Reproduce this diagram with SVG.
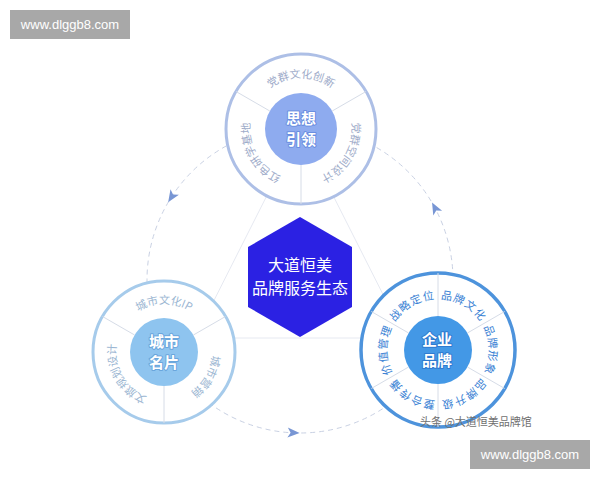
<svg xmlns="http://www.w3.org/2000/svg" width="600" height="480" viewBox="0 0 600 480">
<style>
.seg{font-family:"Noto Sans CJK SC","Noto Sans",sans-serif;font-size:11px;}
.segT{fill:#9eabc9;}
.segL{fill:#9bb6d2;}
.segR{fill:#3a82d4;font-size:11px;letter-spacing:1px;}
.div{stroke:#d6dce7;stroke-width:1;}
.core{font-family:"Noto Sans CJK SC","Noto Sans",sans-serif;font-size:15px;font-weight:bold;fill:#ffffff;stroke-width:2px;paint-order:stroke;stroke-linejoin:round;text-anchor:middle;}
.hex{font-family:"Noto Sans CJK SC","Noto Sans",sans-serif;font-size:16px;fill:#ffffff;text-anchor:middle;}
.wm{font-family:"Liberation Sans",sans-serif;font-size:13px;fill:#ffffff;}
</style>
<defs>
<path id="arrowhead" d="M6.5,0 L-5.5,-5 L-2.5,0 L-5.5,5 Z"/>
<path id="pT1" d="M256.8,103.5 A51,51 0 0 1 345.2,103.5"/>
<path id="pT2" d="M345.2,103.5 A51,51 0 0 1 301,180"/>
<path id="pT3" d="M301,180 A51,51 0 0 1 256.8,103.5"/>
<path id="pL1" d="M122.4,328 A48,48 0 0 1 205.6,328"/>
<path id="pL2" d="M205.6,328 A48,48 0 0 1 164,400"/>
<path id="pL3" d="M164,400 A48,48 0 0 1 122.4,328"/>
<path id="pR1" d="M482.2,324.5 A51,51 0 0 1 482.2,375.5"/>
<path id="pR2" d="M482.2,375.5 A51,51 0 0 1 438,401"/>
<path id="pR3" d="M438,401 A51,51 0 0 1 393.8,375.5"/>
<path id="pR4" d="M393.8,375.5 A51,51 0 0 1 393.8,324.5"/>
<path id="pR5" d="M393.8,324.5 A51,51 0 0 1 438,299"/>
<path id="pR6" d="M438,299 A51,51 0 0 1 482.2,324.5"/>
</defs>
<rect width="600" height="480" fill="#ffffff"/>

<g id="connectors">
<polygon points="300,130 195,338 405,338" fill="none" stroke="#e6e9f1" stroke-width="1"/>
<circle cx="300" cy="280" r="153" fill="none" stroke="#c9d1e3" stroke-width="1" stroke-dasharray="5 4"/>
<use href="#arrowhead" fill="#7896d4" transform="translate(171.7,196.7) rotate(123)"/>
<use href="#arrowhead" fill="#7896d4" transform="translate(435.1,208.2) rotate(242)"/>
<use href="#arrowhead" fill="#7896d4" transform="translate(293.1,432.8) rotate(2.6)"/>
</g>

<g id="node-center">
<polygon points="300,217 352,247 352,307 300,337 248,307 248,247" fill="#2b21e3"/>
<text class="hex" x="300" y="271">大道恒美</text>
<text class="hex" x="300" y="294">品牌服务生态</text>
</g>

<g id="node-thought">
<circle cx="301" cy="129" r="75" fill="#ffffff" stroke="#adbfe6" stroke-width="3"/>
<line class="div" x1="301" y1="165" x2="301" y2="204"/>
<line class="div" x1="269.8" y1="111" x2="236" y2="91.5"/>
<line class="div" x1="332.2" y1="111" x2="366" y2="91.5"/>
<circle cx="301" cy="129" r="36" fill="#8eabef"/>
<text class="core" x="301" y="124" stroke="#6a8ee0">思想</text>
<text class="core" x="301" y="145" stroke="#6a8ee0">引领</text>
<text class="seg segT"><textPath href="#pT1" startOffset="50%" text-anchor="middle">党群文化创新</textPath></text>
<text class="seg segT"><textPath href="#pT2" startOffset="50%" text-anchor="middle">党群空间设计</textPath></text>
<text class="seg segT"><textPath href="#pT3" startOffset="50%" text-anchor="middle">红色研学基地</textPath></text>
</g>

<g id="node-city">
<circle cx="164" cy="352" r="71" fill="#ffffff" stroke="#a6cbeb" stroke-width="3"/>
<line class="div" x1="164" y1="386" x2="164" y2="423"/>
<line class="div" x1="134.6" y1="335" x2="102.5" y2="316.5"/>
<line class="div" x1="193.4" y1="335" x2="225.5" y2="316.5"/>
<circle cx="164" cy="352" r="34" fill="#8ec4ef"/>
<text class="core" x="164" y="347" stroke="#6aa6dc">城市</text>
<text class="core" x="164" y="368" stroke="#6aa6dc">名片</text>
<text class="seg segL"><textPath href="#pL1" startOffset="50%" text-anchor="middle">城市文化IP</textPath></text>
<text class="seg segL"><textPath href="#pL2" startOffset="50%" text-anchor="middle">城市营销</textPath></text>
<text class="seg segL"><textPath href="#pL3" startOffset="50%" text-anchor="middle">文旅规划设计</textPath></text>
</g>

<g id="node-enterprise">
<circle cx="438" cy="350" r="77" fill="#ffffff" stroke="#4d93dc" stroke-width="3.5"/>
<line class="div" x1="467.4" y1="367" x2="504.7" y2="388.5"/>
<line class="div" x1="438" y1="384" x2="438" y2="427"/>
<line class="div" x1="408.6" y1="367" x2="371.3" y2="388.5"/>
<line class="div" x1="408.6" y1="333" x2="371.3" y2="311.5"/>
<line class="div" x1="438" y1="316" x2="438" y2="273"/>
<line class="div" x1="467.4" y1="333" x2="504.7" y2="311.5"/>
<circle cx="438" cy="350" r="34" fill="#4398e6"/>
<text class="core" x="437" y="345" stroke="#2f7bd0">企业</text>
<text class="core" x="437" y="366" stroke="#2f7bd0">品牌</text>
<text class="seg segR"><textPath href="#pR1" startOffset="50%" text-anchor="middle">品牌形象</textPath></text>
<text class="seg segR"><textPath href="#pR2" startOffset="50%" text-anchor="middle">品牌升级</textPath></text>
<text class="seg segR"><textPath href="#pR3" startOffset="50%" text-anchor="middle">整合传播</textPath></text>
<text class="seg segR"><textPath href="#pR4" startOffset="50%" text-anchor="middle">价值管理</textPath></text>
<text class="seg segR"><textPath href="#pR5" startOffset="50%" text-anchor="middle">战略定位</textPath></text>
<text class="seg segR"><textPath href="#pR6" startOffset="50%" text-anchor="middle">品牌文化</textPath></text>
</g>

<text x="420" y="426" font-family="'Noto Sans CJK SC',sans-serif" font-size="11" fill="#707070">头条 @大道恒美品牌馆</text>

<rect x="10" y="10" width="120" height="29" fill="#a8a8a8"/>
<text class="wm" x="70" y="29" text-anchor="middle">www.dlggb8.com</text>
<rect x="470" y="440" width="120" height="29" fill="#a8a8a8"/>
<text class="wm" x="530" y="459" text-anchor="middle">www.dlggb8.com</text>
</svg>
